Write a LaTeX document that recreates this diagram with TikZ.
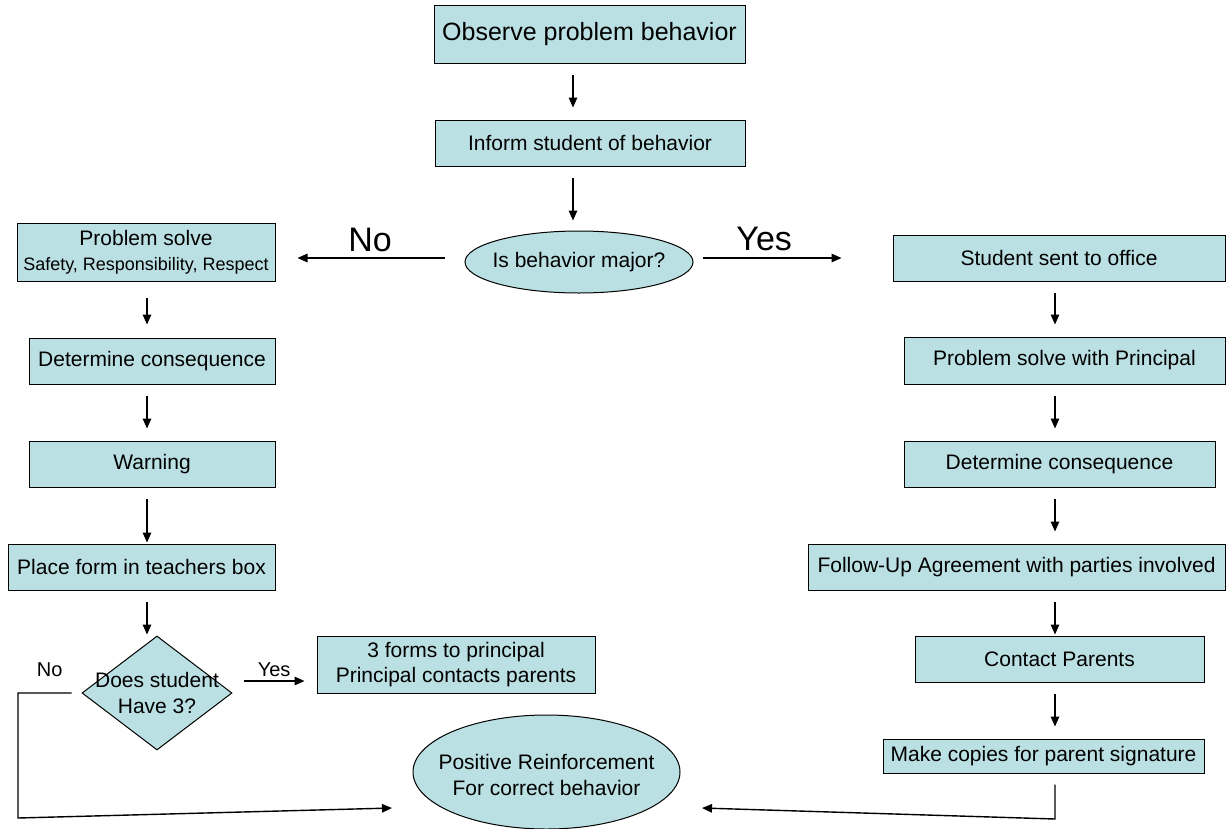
\documentclass[tikz,border=0pt]{standalone}
\usepackage{fontspec}
\setmainfont{Liberation Sans}
\usetikzlibrary{arrows.meta,shapes.geometric,positioning}
\definecolor{boxfill}{RGB}{187,224,227}
\tikzset{
  box/.style={draw, line width=1pt, fill=boxfill, minimum height=46pt, inner sep=0pt,
    align=center, font=\fontsize{21}{25}\selectfont},
  oval/.style={ellipse, draw, line width=1pt, fill=boxfill, inner sep=0pt},
  decide/.style={diamond, draw, line width=1pt, fill=boxfill, inner sep=0pt},
  txt/.style={align=center, inner sep=0pt, font=\fontsize{21}{26}\selectfont},
  arr/.style={-{Triangle[length=10pt,width=8.5pt]}, line width=1.4pt,
    shorten <=11pt, shorten >=12pt},
  bigtag/.style={font=\fontsize{34}{40}\selectfont, inner sep=0pt},
  tag/.style={font=\fontsize{20}{24}\selectfont, inner sep=0pt}
}

\begin{document}
\begin{tikzpicture}[x=1pt, y=-1pt]
    \useasboundingbox (0,0) rectangle (1227,828);
    % middle column
    \node[box, minimum width=311pt, minimum height=58pt, font=\fontsize{25}{30}\selectfont]
        (observe) at (589.5,34) {Observe problem behavior};
    \node[box, minimum width=310pt] (inform) at (590,143) {Inform student of behavior};
    \node[oval, minimum width=228pt, minimum height=62pt,
        label={[txt]center:Is behavior major?}] (major) at (579,262) {};% the question
    \coordinate (midcol) at (573,0);
    \draw[arr] (observe.south -| midcol) -- (inform.north -| midcol);
    \draw[arr, shorten >=10pt] (inform.south -| midcol) -- (major.north -| midcol);
    % left column (minor behavior)
    \node[box, minimum width=258pt, minimum height=58pt] (solve) at (146,252)
        {Problem solve\\\fontsize{18}{22}\selectfont Safety, Responsibility, Respect};
    \node[box, minimum width=246pt] (consL) at (152,361) {Determine consequence};
    \node[box, minimum width=246pt] (warn) at (152,464) {Warning};
    \node[box, minimum width=267pt] (place) at (141.5,567) {Place form in teachers box};
    \node[decide, minimum width=150pt, minimum height=114pt,
        label={[txt]center:Does student\\Have 3?}] (three) at (157,693) {};
    \node[box, minimum width=278pt, minimum height=57pt] (forms) at (456,664.5)
        {3 forms to principal\\Principal contacts parents};
    \coordinate (leftcol) at (147,0);
    \draw[arr, shorten <=16pt, shorten >=13pt] (solve.south -| leftcol) -- (consL.north -| leftcol);
    \draw[arr] (consL.south -| leftcol) -- (warn.north -| leftcol);
    \draw[arr, shorten >=1pt] (warn.south -| leftcol) -- (place.north -| leftcol);
    \draw[arr, shorten >=1pt] (place.south -| leftcol) -- (three.north -| leftcol);
    % right column (major behavior)
    \node[box, minimum width=332pt] (office) at (1059,258) {Student sent to office};
    \node[box, minimum width=321pt, minimum height=47pt] (solveP) at (1064.5,360.5)
        {Problem solve with Principal};
    \node[box, minimum width=311pt] (consR) at (1059.5,464) {Determine consequence};
    \node[box, minimum width=417pt] (follow) at (1016.5,567)
        {Follow-Up Agreement with parties involved};
    \node[box, minimum width=289pt] (contact) at (1059.5,659) {Contact Parents};
    \node[box, minimum width=321pt, minimum height=34pt] (copies) at (1043.5,756)
        {Make copies for parent signature};
    \coordinate (rightcol) at (1055,0);
    \draw[arr] (office.south -| rightcol) -- (solveP.north -| rightcol);
    \draw[arr] (solveP.south -| rightcol) -- (consR.north -| rightcol);
    \draw[arr] (consR.south -| rightcol) -- (follow.north -| rightcol);
    \draw[arr, shorten >=1pt] (follow.south -| rightcol) -- (contact.north -| rightcol);
    \draw[arr] (contact.south -| rightcol) -- (copies.north -| rightcol);
    % the goal
    \node[oval, minimum width=267pt, minimum height=114pt,
        label={[txt, yshift=-3pt]center:Positive Reinforcement\\For correct behavior}]
        (pos) at (546.5,772) {};
    % branches
    \draw[arr, shorten <=20pt, shorten >=22pt] ([yshift=4pt]major.west)
        -- ([yshift=4pt]major.west -| solve.east) node[bigtag, midway, above=5pt] {No};
    \draw[arr, shorten <=9pt, shorten >=51pt] ([yshift=4pt]major.east)
        -- ([yshift=4pt]major.east -| office.west) node[bigtag, pos=0.355, above=6pt] {Yes};
    \draw[arr, shorten <=0pt] ([shift={(11pt,12pt)}]three.east)
        -- ([yshift=-16.5pt]forms.west) node[tag, pos=0.42, above=4pt] {Yes};
    % back to positive reinforcement
    \coordinate (bendL) at (18,818);
    \coordinate (posL) at (392,808);
    \draw[arr, shorten <=10pt, shorten >=0pt] (three.west)
        -- (three.west -| bendL) node[tag, midway, above=16pt] {No}
        -- (bendL) -- (posL);
    \coordinate (bendR) at (1055,819);
    \coordinate (posR) at (702,808);
    \draw[arr, shorten >=0pt] (copies.south -| rightcol) -- (bendR) -- (posR);
\end{tikzpicture}
\end{document}
